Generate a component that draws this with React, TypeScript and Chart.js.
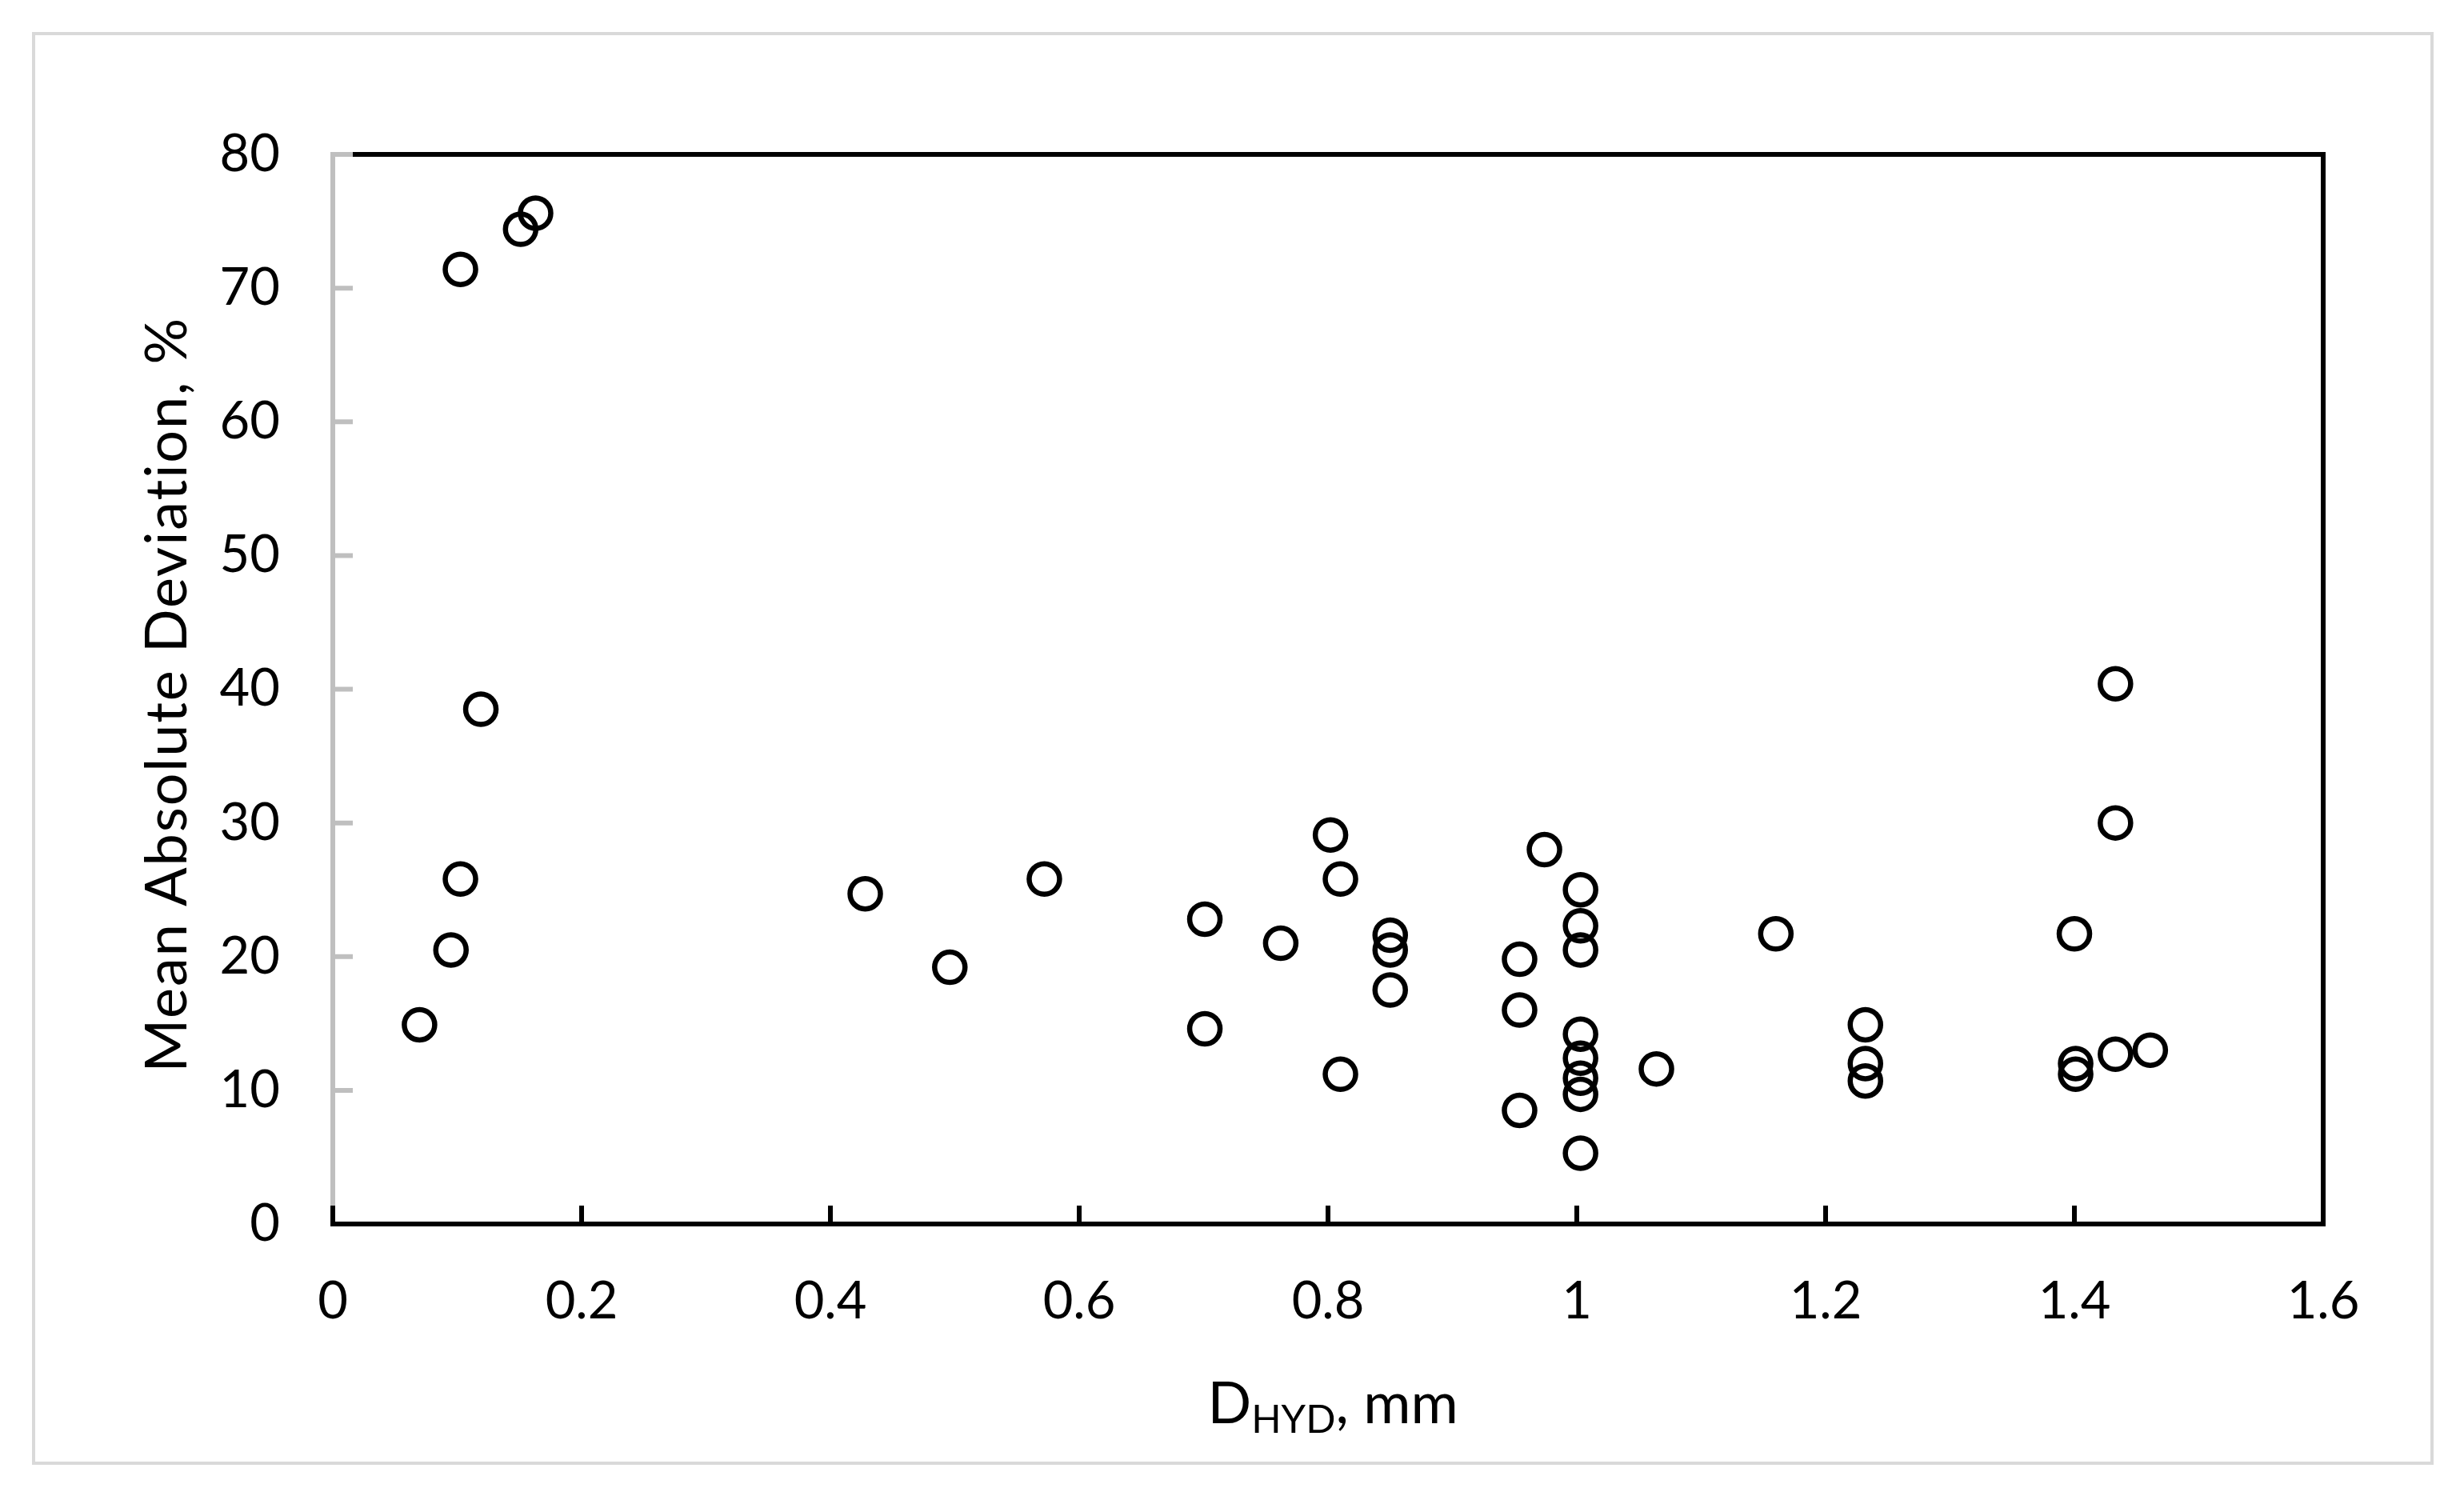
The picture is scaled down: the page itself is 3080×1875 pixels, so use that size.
import React, { useEffect, useRef } from "react";
import { Chart, registerables } from "chart.js";

Chart.register(...registerables);

// ---- Data ----
const dHyd: number[] = [
  0.0697, 0.095, 0.1026, 0.1026, 0.119, 0.151, 0.163,
  0.428, 0.496, 0.572,
  0.701, 0.701, 0.762, 0.802, 0.81, 0.81,
  0.85, 0.85, 0.85,
  0.954, 0.954, 0.954, 0.974,
  1.003, 1.003, 1.003, 1.003, 1.003, 1.003, 1.003, 1.003,
  1.064, 1.16,
  1.232, 1.232, 1.232,
  1.4, 1.401, 1.401,
  1.433, 1.433, 1.433, 1.461,
];
const meanAbsDev: number[] = [
  14.9, 20.5, 25.8, 71.4, 38.5, 74.4, 75.6,
  24.7, 19.2, 25.8,
  22.8, 14.6, 21.0, 29.1, 25.8, 11.2,
  21.6, 20.5, 17.5,
  19.8, 16.0, 8.5, 28.0,
  25.0, 22.3, 20.5, 14.2, 12.4, 10.9, 9.7, 5.3,
  11.6, 21.7,
  14.9, 12.0, 10.7,
  21.7, 12.0, 11.2,
  40.4, 30.0, 12.7, 13.0,
];
const xTicks: number[] = [0, 0.2, 0.4, 0.6, 0.8, 1, 1.2, 1.4, 1.6];
const xTickLabels: string[] = ["0", "0.2", "0.4", "0.6", "0.8", "1", "1.2", "1.4", "1.6"];
const yTicks: number[] = [0, 10, 20, 30, 40, 50, 60, 70, 80];
const yTickLabels: string[] = ["0", "10", "20", "30", "40", "50", "60", "70", "80"];
const yTitle = "Mean Absolute Deviation, %";
const xTitleMain = "D";
const xTitleSub = "HYD";
const xTitleRest = ", mm";

const FONT = "Lato, 'Open Sans', 'Liberation Sans', sans-serif";

const framePlugin = {
  id: "framePlugin",
  beforeDraw(chart: any) {
    const ctx = chart.ctx;
    ctx.save();
    ctx.fillStyle = "#ffffff";
    ctx.fillRect(0, 0, chart.width, chart.height);
    ctx.strokeStyle = "#D9D9D9";
    ctx.lineWidth = 4;
    ctx.strokeRect(42, 42, 2998, 1787);
    ctx.restore();
  },
  beforeDatasetsDraw(chart: any) {
    const ctx = chart.ctx;
    const { left, right, top, bottom } = chart.chartArea;
    const xs = chart.scales.x;
    const ys = chart.scales.y;
    ctx.save();
    ctx.lineCap = "butt";
    // top & right border (black)
    ctx.strokeStyle = "#000000";
    ctx.lineWidth = 6;
    ctx.beginPath();
    ctx.moveTo(left - 3, top);
    ctx.lineTo(right + 3, top);
    ctx.moveTo(right, top);
    ctx.lineTo(right, bottom);
    ctx.stroke();
    // left axis (gray)
    ctx.strokeStyle = "#BFBFBF";
    ctx.beginPath();
    ctx.moveTo(left, top - 3);
    ctx.lineTo(left, bottom);
    ctx.stroke();
    // y ticks (gray, inward)
    ctx.beginPath();
    for (const v of yTicks) {
      const py = ys.getPixelForValue(v);
      ctx.moveTo(left, py);
      ctx.lineTo(left + 25, py);
    }
    ctx.stroke();
    // bottom axis (black)
    ctx.strokeStyle = "#000000";
    ctx.beginPath();
    ctx.moveTo(left - 3, bottom);
    ctx.lineTo(right + 3, bottom);
    ctx.stroke();
    // x ticks (black, inward)
    ctx.beginPath();
    for (const v of xTicks) {
      const px = xs.getPixelForValue(v);
      ctx.moveTo(px, bottom);
      ctx.lineTo(px, bottom - 23);
    }
    ctx.stroke();
    ctx.restore();
  },
  afterDraw(chart: any) {
    const ctx = chart.ctx;
    const { left, right, top, bottom } = chart.chartArea;
    ctx.save();
    ctx.fillStyle = "#000000";
    // x title with subscript
    const mainSize = 72;
    const subSize = 49;
    ctx.textBaseline = "alphabetic";
    ctx.textAlign = "left";
    ctx.font = `${mainSize}px ${FONT}`;
    const wD = ctx.measureText(xTitleMain).width;
    const wRest = ctx.measureText(xTitleRest).width;
    ctx.font = `${subSize}px ${FONT}`;
    const wSub = ctx.measureText(xTitleSub).width;
    const total = wD + wSub + wRest;
    const cx = (left + right) / 2 + 6;
    let x = cx - total / 2;
    const baseY = 1779;
    ctx.font = `${mainSize}px ${FONT}`;
    ctx.fillText(xTitleMain, x, baseY);
    x += wD;
    ctx.font = `${subSize}px ${FONT}`;
    ctx.fillText(xTitleSub, x, baseY + 12);
    x += wSub;
    ctx.font = `${mainSize}px ${FONT}`;
    ctx.fillText(xTitleRest, x, baseY);

    // y title, rotated
    const targetLen = 944;
    ctx.font = `72px ${FONT}`;
    (ctx as any).letterSpacing = "0px";
    const w0 = ctx.measureText(yTitle).width;
    const spacing = (targetLen - w0) / (yTitle.length - 1);
    ctx.translate(233, (top + bottom) / 2 + 7);
    ctx.rotate(-Math.PI / 2);
    (ctx as any).letterSpacing = `${spacing}px`;
    ctx.textAlign = "left";
    ctx.fillText(yTitle, -targetLen / 2, 0);
    ctx.restore();
  },
};

export default function App() {
  const ref = useRef<HTMLCanvasElement | null>(null);
  useEffect(() => {
    if (!ref.current) return;
    const points = dHyd.map((x, i) => ({ x, y: meanAbsDev[i] }));
    const chart = new Chart(ref.current, {
      type: "scatter",
      data: {
        datasets: [
          {
            label: "MAD",
            data: points,
            pointStyle: "circle",
            pointRadius: 19,
            pointHoverRadius: 19,
            pointBorderWidth: 6.5,
            pointBackgroundColor: "rgba(0,0,0,0)",
            pointBorderColor: "#000000",
            borderColor: "#000000",
            backgroundColor: "rgba(0,0,0,0)",
          },
        ],
      },
      options: {
        responsive: false,
        animation: false,
        devicePixelRatio: 1,
        layout: { padding: { left: 0, top: 193, right: 176, bottom: 0 } },
        plugins: {
          legend: { display: false },
          tooltip: { enabled: false },
          title: { display: false },
        },
        scales: {
          x: {
            type: "linear",
            min: 0,
            max: 1.6,
            afterBuildTicks: (scale: any) => {
              scale.ticks = xTicks.map((v) => ({ value: v }));
            },
            afterFit: (scale: any) => {
              scale.height = 345;
            },
            grid: { display: false, drawTicks: false },
            border: { display: false },
            ticks: {
              padding: 58,
              maxRotation: 0,
              autoSkip: false,
              color: "#000000",
              font: { family: FONT, size: 65 },
              callback: (_v: any, i: number) => xTickLabels[i],
            },
          },
          y: {
            type: "linear",
            min: 0,
            max: 80,
            afterBuildTicks: (scale: any) => {
              scale.ticks = yTicks.map((v) => ({ value: v }));
            },
            afterFit: (scale: any) => {
              scale.width = 416;
            },
            grid: { display: false, drawTicks: false },
            border: { display: false },
            ticks: {
              padding: 66,
              autoSkip: false,
              color: "#000000",
              font: { family: FONT, size: 65 },
              callback: (_v: any, i: number) => yTickLabels[i],
            },
          },
        },
      },
      plugins: [framePlugin],
    });
    let alive = true;
    if ((document as any).fonts && (document as any).fonts.ready) {
      (document as any).fonts.ready.then(() => {
        if (alive) chart.update();
      });
    }
    return () => {
      alive = false;
      chart.destroy();
    };
  }, []);
  return (
    <canvas
      ref={ref}
      width={3080}
      height={1875}
      style={{ position: "fixed", left: 0, top: 0, width: 3080, height: 1875 }}
    />
  );
}
